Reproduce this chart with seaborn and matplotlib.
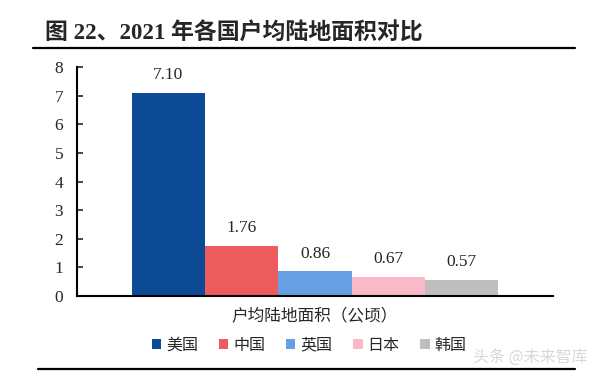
import matplotlib
matplotlib.use("Agg")
import matplotlib.pyplot as plt
from matplotlib.lines import Line2D
import seaborn as sns
import pandas as pd

countries = ["美国", "中国", "英国", "日本", "韩国"]
area = [7.10, 1.76, 0.86, 0.67, 0.57]
category = "户均陆地面积（公顷）"
colors = ["#0c4a96", "#ec5c5e", "#67a0e2", "#f9b9c9", "#bebebe"]

sns.set_style("white")
cjk = ["Liberation Serif", "Noto Sans CJK SC"]
plt.rcParams["font.family"] = cjk

df = pd.DataFrame({"cat": [category] * len(countries), "country": countries, "area": area})

fig = plt.figure(figsize=(6, 3.74), dpi=100)
ax = fig.add_axes([77 / 600, 1 - 296 / 374, 476 / 600, 229 / 374])

sns.barplot(data=df, x="cat", y="area", hue="country", palette=colors,
            width=0.8, saturation=1, linewidth=0, ax=ax, legend=True)

for c in ax.containers:
    ax.bar_label(c, fmt="%.2f", padding=7, fontsize=12.5, family="Liberation Serif")

ax.set_xlim(-0.519, 0.519)
ax.set_ylim(0, 8)
ax.set_yticks(range(0, 9))
ax.tick_params(axis="y", direction="in", length=4, width=1.2, labelsize=12.5, pad=10, left=True)
ax.tick_params(axis="x", length=0, labelsize=12, pad=8)
for lbl in ax.get_xticklabels():
    lbl.set_family(["Noto Sans CJK SC"])
ax.set_xlabel("")
ax.set_ylabel("")
sns.despine(ax=ax)
for s in ["left", "bottom"]:
    ax.spines[s].set_linewidth(1.5)
    ax.spines[s].set_color("black")

handles, labels = ax.get_legend_handles_labels()
ax.legend(handles, labels, ncol=5, frameon=False, loc="center",
          bbox_to_anchor=(0.5 - 6 / 476, -0.215), handlelength=0.6, handleheight=0.6,
          handletextpad=0.3, columnspacing=1.3,
          prop={"family": "Noto Sans CJK SC", "size": 11.5})

fig.text(45 / 600, 1 - 34 / 374, "图 22、2021 年各国户均陆地面积对比", fontsize=16.5,
         fontweight="bold", va="center", ha="left", family=cjk)
fig.add_artist(Line2D([33 / 600, 575 / 600], [1 - 48 / 374] * 2, color="black", lw=1.6))
fig.add_artist(Line2D([38 / 600, 575 / 600], [1 - 369 / 374] * 2, color="black", lw=1.6))
fig.text(530 / 600, 1 - 357 / 374, "头条 @未来智库", fontsize=11.5, color="#d8d8d8",
         ha="center", va="center", family=["Noto Sans CJK SC"])

fig.savefig("out.png", dpi=100)
